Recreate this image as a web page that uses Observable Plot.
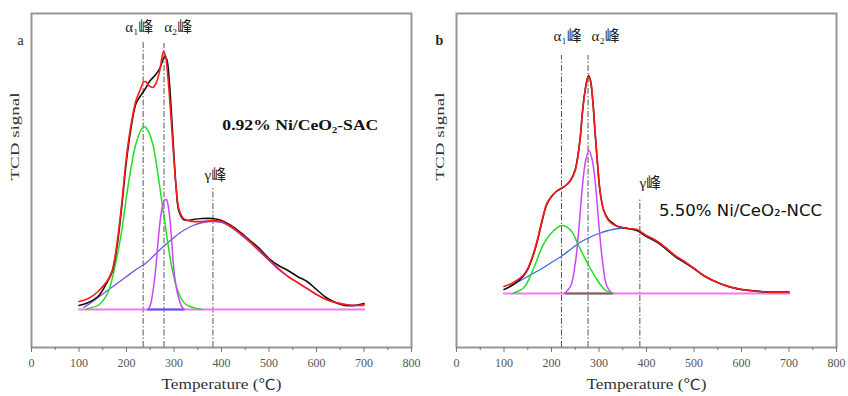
<!DOCTYPE html>
<html>
<head>
<meta charset="utf-8">
<script src="https://cdn.jsdelivr.net/npm/d3@7"></script>
<script src="https://cdn.jsdelivr.net/npm/@observablehq/plot@0.6"></script>
<style>
  body { margin: 0; background: #fff; }
  #wrap { display: flex; width: 848px; height: 396px; }
</style>
</head>
<body>
<div id="wrap"></div>
<script>
// Temperature axis ticks (°C)
const majorTicks = [0, 100, 200, 300, 400, 500, 600, 700, 800];
const minorTicks = [50, 150, 250, 350, 450, 550, 650, 750];

// ---- Panel a: 0.92% Ni/CeO2-SAC — [temperature °C, TCD signal a.u.] ----
const aExperimental = [[100,4],[120,7],[140,13],[160,28],[170,38],[180,63],[190,103],[200,149],[210,183],[220,206],[230,214],[240,221],[250,229],[260,234],[270,241],[277,250],[281,253],[285,250],[290,229],[295,193],[300,153],[305,119],[310,99],[320,90],[330,89],[340,90],[360,91],[380,91],[400,89],[420,84],[440,77],[460,69],[480,61],[500,51],[520,44],[540,39],[560,33],[580,28],[600,20],[620,12],[640,7],[660,4],[680,4],[700,6]];
const aFitted = [[100,8],[120,11],[140,18],[160,29],[170,39],[180,66],[190,106],[200,153],[210,186],[220,209],[230,221],[235,227],[240,228],[247,224],[255,222],[262,226],[270,239],[275,253],[278,258],[282,254],[286,238],[290,216],[295,183],[300,149],[305,119],[310,101],[320,91],[330,89],[340,88],[360,88],[380,89],[400,88],[420,83],[440,76],[460,68],[480,59],[500,50],[520,41],[540,33],[560,27],[580,21],[600,15],[620,10],[640,7],[660,5],[680,4],[700,5]];
const aAlpha1 = [[115,0],[120,1],[140,4],[160,16],[180,53],[190,79],[200,113],[210,143],[220,166],[230,179],[237,183],[245,179],[255,166],[265,139],[275,106],[285,73],[295,43],[305,23],[315,11],[325,5],[340,2],[360,0]];
const aAlpha2 = [[245,0],[250,4],[255,16],[262,43],[268,76],[274,99],[280,109],[284,110],[290,96],[295,69],[300,39],[306,19],[312,8],[316,3],[322,0]];
const aGamma = [[110,2],[120,5],[140,12],[160,19],[180,26],[200,33],[220,40],[240,46],[260,55],[280,64],[300,72],[320,79],[340,84],[360,87],[380,88],[400,87],[420,82],[440,75],[460,67],[480,58],[500,49],[520,40],[540,33],[560,27],[580,21],[600,15],[620,10],[640,7],[660,5],[680,4],[700,4]];
const aBaseline = [[100,0],[700,0]];
const aAlpha2Base = [[245,0],[320,0]];
const aPeakTemps = [235, 279, 382];
const aPeakTops = [269, 266, 121];

// ---- Panel b: 5.50% Ni/CeO2-NCC ----
const bExperimental = [[100,4],[120,9],[140,17],[150,24],[160,36],[170,52],[180,72],[190,89],[200,97],[210,102],[220,105],[230,108],[240,113],[250,124],[260,154],[265,181],[270,201],[275,214],[278,218],[282,213],[287,192],[292,159],[297,129],[302,103],[310,83],[320,74],[330,70],[340,67],[360,65],[380,63],[400,57],[420,52],[440,45],[460,37],[480,31],[500,25],[520,18],[540,13],[560,9],[580,6],[600,4],[620,3],[640,2],[660,1.5],[680,1.5],[700,1.5]];
const bFitted = [[100,7],[120,11],[140,18],[150,25],[160,37],[170,53],[180,73],[190,90],[200,97],[210,102],[220,105],[230,108],[240,113],[250,123],[260,153],[265,180],[270,200],[275,213],[278,217],[282,213],[287,193],[292,160],[297,130],[302,103],[310,83],[320,73],[330,69],[340,67],[360,65],[380,64],[400,58],[420,53],[440,46],[460,38],[480,32],[500,25],[520,18],[540,13],[560,9],[580,6],[600,4],[620,2.7],[640,2],[660,1.3],[680,1.3],[700,1.3]];
const bAlpha1 = [[120,0.5],[142,6],[163,26],[184,50],[205,63],[222,68],[241,63],[255,50],[276,30],[297,13],[314,3],[330,0.5]];
const bAlpha2 = [[228,0.5],[240,7],[250,30],[258,67],[265,107],[272,133],[279,143],[286,133],[293,107],[300,67],[308,30],[316,8],[326,0.5]];
const bGamma = [[105,5],[120,9],[150,17],[180,25],[200,31],[220,37],[240,44],[260,51],[280,56],[300,60],[320,63],[340,65],[360,65],[380,63],[400,58],[420,53],[440,46],[460,38],[480,32],[500,25],[520,18],[540,13],[560,9],[580,6],[600,4],[620,3],[640,2],[660,1],[680,1],[700,1]];
const bBaseline = [[100,0],[700,0]];
const bAlpha2Base = [[230,0],[328,0]];
const bPeakTemps = [221, 277, 386];
const bPeakTops = [238, 238, 95];

const peakNames = ["α₁峰", "α₂峰", "γ峰"];

const serif = "'Liberation Serif','Times New Roman','Noto Sans CJK SC',serif";
const cjk = "'Liberation Serif','Noto Sans CJK SC',serif";

function curve(data, stroke, width = 1.5) {
  return Plot.line(data, {x: d => d[0], y: d => d[1], stroke, strokeWidth: width, curve: "catmull-rom"});
}

function panel(cfg) {
  const guides = cfg.peakTemps.map((t, i) => ({t, top: cfg.peakTops[i]}));
  const chart = Plot.plot({
    width: 424,
    height: 396,
    marginTop: 13,
    marginBottom: 49,
    marginLeft: cfg.ml,
    marginRight: cfg.mr,
    x: {domain: [0, 800]},
    y: {domain: cfg.yDomain, axis: null},
    style: {fontFamily: serif, background: "#fff", overflow: "visible"},
    marks: [
      // dash-dot guides at the peak temperatures
      Plot.ruleX(guides, {x: "t", y1: cfg.yDomain[0], y2: "top", stroke: "#555", strokeWidth: 1, strokeDasharray: "6,2,1.5,2"}),
      curve(cfg.baseline, "#f07af0", 2.2),
      curve(cfg.alpha2Base, cfg.alpha2BaseColor, 2),
      curve(cfg.gamma, cfg.gammaColor, 1.3),
      curve(cfg.alpha1, "#22dd22", 1.5),
      curve(cfg.alpha2, "#cc44ff", 1.5),
      curve(cfg.experimental, "#111", 1.6),
      curve(cfg.fitted, "#ff1a1a", 1.6),
      Plot.text(cfg.labels, {x: "t", y: "h", text: "text", fontSize: 15, fill: "#222", fontFamily: cjk}),
      Plot.text([cfg.sample], {x: cfg.samplePos[0], y: cfg.samplePos[1], text: d => d, fontSize: 15, fill: "#111", fontWeight: cfg.sampleWeight, fontFamily: cfg.sampleFont}),
      Plot.frame({stroke: "#959595", strokeWidth: 2}),
      Plot.axisX({ticks: majorTicks, tickSize: 5, tickPadding: 6, tickFormat: d => String(d), label: null, stroke: "#777", fill: "#555", fontSize: 12}),
      Plot.axisX({ticks: minorTicks, tickSize: 3, tickFormat: () => "", label: null, stroke: "#777"}),
      Plot.text(["Temperature (℃)"], {frameAnchor: "bottom", dy: 41, fontSize: 14, fill: "#333"}),
      Plot.text(["TCD signal"], {frameAnchor: "left", dx: -16, rotate: -90, fontSize: 12, fill: "#333"}),
      Plot.text([cfg.letter], {frameAnchor: "top-left", dx: cfg.letterDx, dy: 22, fontSize: 14, fill: "#222", fontWeight: cfg.letterWeight})
    ]
  });
  // stretch a few labels to the widths used in the figure
  const widths = Object.assign({"Temperature (℃)": 120, "TCD signal": 88}, cfg.widths);
  d3.select(chart).selectAll("text").each(function() {
    const w = widths[this.textContent];
    if (w) {
      this.setAttribute("textLength", w);
      this.setAttribute("lengthAdjust", "spacingAndGlyphs");
    }
  });
  return chart;
}

const wrap = document.getElementById("wrap");

wrap.appendChild(panel({
  ml: 31, mr: 13,
  yDomain: [-38, 296],
  experimental: aExperimental, fitted: aFitted,
  alpha1: aAlpha1, alpha2: aAlpha2, gamma: aGamma, gammaColor: "#7a4ee0",
  baseline: aBaseline, alpha2Base: aAlpha2Base, alpha2BaseColor: "#4a5ee8",
  peakTemps: aPeakTemps, peakTops: aPeakTops,
  labels: [
    {t: 227, h: 282, text: peakNames[0]},
    {t: 309, h: 282, text: peakNames[1]},
    {t: 387, h: 134, text: peakNames[2]}
  ],
  sample: "0.92% Ni/CeO₂-SAC", samplePos: [566, 184], sampleWeight: "bold", sampleFont: serif,
  letter: "a", letterDx: -14, letterWeight: "normal",
  widths: {"0.92% Ni/CeO₂-SAC": 156}
}));

wrap.appendChild(panel({
  ml: 32, mr: 12,
  yDomain: [-54, 280],
  experimental: bExperimental, fitted: bFitted,
  alpha1: bAlpha1, alpha2: bAlpha2, gamma: bGamma, gammaColor: "#3d6be8",
  baseline: bBaseline, alpha2Base: bAlpha2Base, alpha2BaseColor: "#5d7a35",
  peakTemps: bPeakTemps, peakTops: bPeakTops,
  labels: [
    {t: 234, h: 257, text: peakNames[0]},
    {t: 314, h: 257, text: peakNames[1]},
    {t: 408, h: 110, text: peakNames[2]}
  ],
  sample: "5.50% Ni/CeO₂-NCC", samplePos: [598, 82], sampleWeight: "normal", sampleFont: "'DejaVu Sans',sans-serif",
  letter: "b", letterDx: -21, letterWeight: "bold",
  widths: {"5.50% Ni/CeO₂-NCC": 163}
}));
</script>
</body>
</html>
